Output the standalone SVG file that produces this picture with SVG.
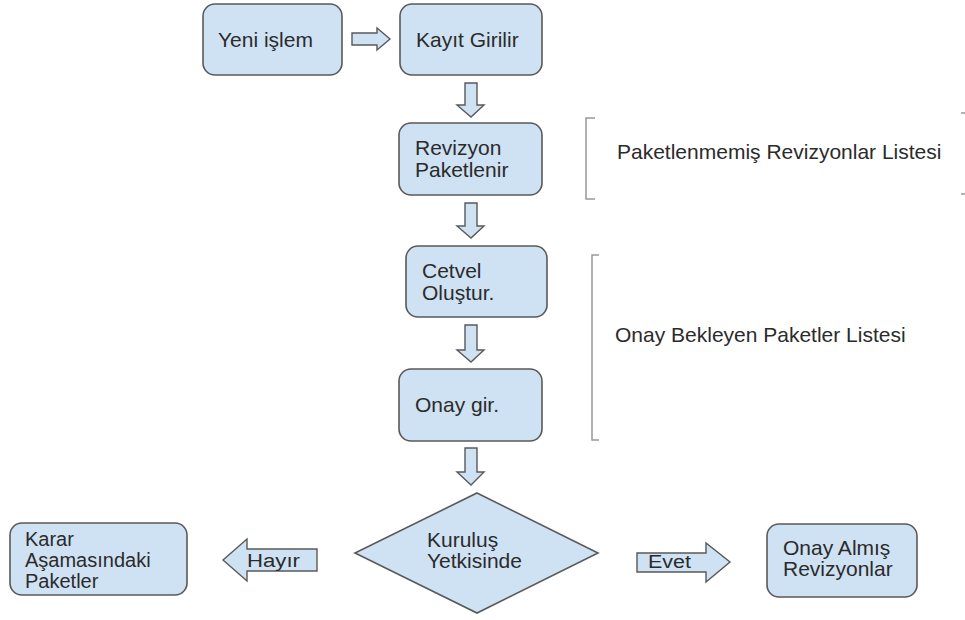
<svg xmlns="http://www.w3.org/2000/svg" width="965" height="620" viewBox="0 0 965 620">
<style>
.box{fill:#cfe2f3;stroke:#595959;stroke-width:1.6}
.arr{fill:#cfe2f3;stroke:#595959;stroke-width:1.4;stroke-linejoin:miter}
.t{font-family:"Liberation Sans",Arial,sans-serif;font-size:21px;fill:#2b2b2b}
.s{font-size:20px}
.lbl{font-family:"Liberation Sans",Arial,sans-serif;font-size:18px;fill:#2b2b2b}
.br{fill:none;stroke:#999;stroke-width:1.5}
</style>
<rect width="965" height="620" fill="#fff"/>
<g id="connectors">
<polygon class="arr" points="352,33 377,33 377,28 390,39 377,50 377,45 352,45"/>
<polygon class="arr" points="465,83 477,83 477,105 484,105 471,117 457,105 465,105"/>
<polygon class="arr" points="465,203 477,203 477,226 484,226 471,238 457,226 465,226"/>
<polygon class="arr" points="465,325 477,325 477,350 484,350 471,362 457,350 465,350"/>
<polygon class="arr" points="465,448 477,448 477,472 484,472 471,485 457,472 465,472"/>
<g id="hayir">
<polygon class="arr" points="223,560 247,539 247,549 317,549 317,571 247,571 247,581"/>
<text class="lbl" x="247" y="567" textLength="53" lengthAdjust="spacingAndGlyphs">Hayır</text>
</g>
<g id="evet">
<polygon class="arr" points="637,553 706,553 706,543 730,562 706,582 706,572 637,572"/>
<text class="lbl" x="648" y="568" textLength="43" lengthAdjust="spacingAndGlyphs">Evet</text>
</g>
</g>
<g id="yeni"><rect class="box" x="203" y="4" width="139" height="71" rx="12"/><text class="t" x="218" y="47">Yeni işlem</text></g>
<g id="kayit"><rect class="box" x="400" y="4" width="142" height="71" rx="12"/><text class="t" x="416" y="47">Kayıt Girilir</text></g>
<g id="revizyon"><rect class="box" x="399" y="123" width="143" height="72" rx="12"/><text class="t" x="415" y="155">Revizyon</text><text class="t" x="415" y="177">Paketlenir</text></g>
<g id="cetvel"><rect class="box" x="406" y="246" width="141" height="71" rx="12"/><text class="t" x="422" y="278">Cetvel</text><text class="t" x="422" y="300">Oluştur.</text></g>
<g id="onaygir"><rect class="box" x="399" y="369" width="143" height="72" rx="12"/><text class="t" x="415" y="412">Onay gir.</text></g>
<g id="kurulus"><polygon class="box" points="477,493 598,553 477,613 355,553"/><text class="t" x="427" y="547">Kuruluş</text><text class="t" x="427" y="568">Yetkisinde</text></g>
<g id="karar"><rect class="box" x="10" y="523" width="177" height="72" rx="12"/><text class="t s" x="25" y="546">Karar</text><text class="t s" x="25" y="567">Aşamasındaki</text><text class="t s" x="25" y="588">Paketler</text></g>
<g id="onayalmis"><rect class="box" x="767" y="524" width="150" height="73" rx="12"/><text class="t" x="783" y="555">Onay Almış</text><text class="t" x="783" y="576">Revizyonlar</text></g>
<g id="paketlenmemis">
<path class="br" d="M595,118 H586 V199 H595"/>
<path class="br" d="M961,113 H965 M961,194 H965"/>
<text class="t" x="617" y="159">Paketlenmemiş Revizyonlar Listesi</text>
</g>
<g id="onaybekleyen">
<path class="br" d="M599,255 H592 V440 H599"/>
<text class="t" x="615" y="342">Onay Bekleyen Paketler Listesi</text>
</g>
</svg>
